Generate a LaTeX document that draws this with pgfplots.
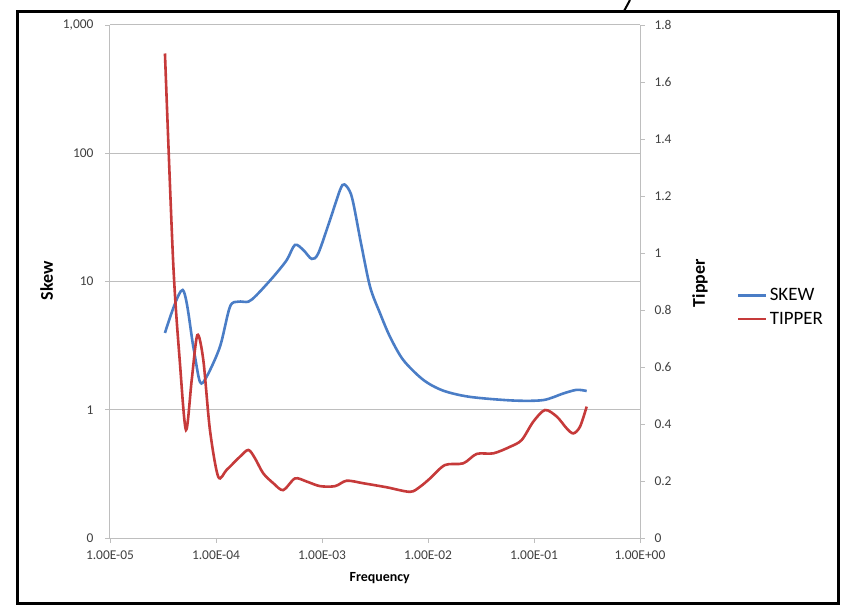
\documentclass[border=0pt]{standalone}
\usepackage{pgfplots}
\pgfplotsset{compat=1.18}
\usepackage{fontspec}
\setmainfont{Carlito}
\definecolor{skewblue}{HTML}{4A7DC6}
\definecolor{tipred}{HTML}{C63A3A}
\definecolor{axgray}{HTML}{BEBEBE}
\begin{document}
\begin{tikzpicture}
\path[use as bounding box] (0bp,0bp) rectangle (851bp,614bp);
\begin{axis}[
  at={(110bp,76bp)}, anchor=south west, scale only axis,
  width=530bp, height=513bp,
  xmode=log, ymode=log,
  xmin=1e-5, xmax=1, ymin=0.1, ymax=1000,
  xtick={1e-5,1e-4,1e-3,1e-2,1e-1,1},
  xticklabels={1.00E-05,1.00E-04,1.00E-03,1.00E-02,1.00E-01,1.00E+00},
  ytick={0.1,1,10,100,1000},
  yticklabels={0,1,10,100,{1,000}},
  xminorticks=false, yminorticks=false,
  axis x line*=bottom, axis y line*=left,
  axis line style={axgray, line width=1bp},
  ymajorgrids, grid style={axgray, line width=1bp},
  tick align=outside, major tick length=5bp,
  tick style={axgray, line width=0.8bp},
  /pgf/number format/assume math mode=true,
  tick label style={font=\fontsize{13.5}{15}\selectfont, text=black!75},
  yticklabel style={xshift=-8bp},
  xticklabel style={yshift=-4bp},
  xlabel={Frequency},
  xlabel style={at={(rel axis cs:0.509,-0.078)}, anchor=center, font=\bfseries\fontsize{14}{16}\selectfont},
  ylabel={Skew},
  ylabel style={at={(rel axis cs:-0.1195,0.501)}, anchor=center, font=\bfseries\fontsize{18}{20}\selectfont},
]
\addplot[skewblue, line width=2.6bp, smooth, tension=0.5] coordinates {
(3.30e-5,3.97) (4.85e-5,8.59) (6.11e-5,3.10) (7.06e-5,1.65) (8.16e-5,1.81)
(1.09e-4,3.10) (1.355e-4,6.36) (1.62e-4,6.96) (2.02e-4,6.96) (2.42e-4,7.85)
(3.48e-4,10.9) (4.65e-4,14.7) (5.56e-4,19.3) (6.67e-4,17.6) (8.0e-4,15.0)
(9.23e-4,16.6) (1.19e-3,30.2) (1.48e-3,51.7) (1.63e-3,57.1) (1.91e-3,45.8)
(2.33e-3,20.0) (2.84e-3,9.1) (3.52e-3,5.68) (4.38e-3,3.71) (5.85e-3,2.44)
(9.03e-3,1.71) (1.39e-2,1.41) (2.49e-2,1.26) (6.38e-2,1.18) (0.1225,1.19)
(0.189,1.34) (0.253,1.43) (0.314,1.40)
};
\end{axis}
\begin{axis}[
  at={(110bp,76bp)}, anchor=south west, scale only axis,
  width=530bp, height=513bp,
  xmode=log, xmin=1e-5, xmax=1, ymin=0, ymax=1.8,
  ytick={0,0.2,0.4,0.6,0.8,1,1.2,1.4,1.6,1.8},
  axis x line=none, axis y line*=right,
  axis line style={axgray, line width=1bp},
  tick align=outside, major tick length=5bp,
  tick style={axgray, line width=0.8bp},
  /pgf/number format/assume math mode=true,
  tick label style={font=\fontsize{13.5}{15}\selectfont, text=black!75},
  yticklabel style={xshift=6bp},
  ylabel={Tipper},
  ylabel style={at={(rel axis cs:1.113,0.497)}, anchor=center, font=\bfseries\fontsize{18}{20}\selectfont},
  legend style={at={(rel axis cs:1.183,0.45)}, anchor=west, draw=none, fill=none,
    font=\fontsize{19}{22}\selectfont, row sep=6bp, inner sep=0pt},
  legend cell align=left,
  legend image code/.code={\draw[#1] (0bp,0bp) -- (28bp,0bp);},
]
\addlegendimage{skewblue, line width=2.6bp}
\addlegendentry{SKEW}
\addplot[tipred, line width=2.6bp, smooth, tension=0.5] coordinates {
(3.30e-5,1.70) (3.95e-5,0.964) (4.57e-5,0.613) (5.21e-5,0.379) (5.90e-5,0.554)
(6.67e-5,0.712) (7.59e-5,0.625) (8.77e-5,0.379) (1.05e-4,0.215) (1.26e-4,0.239)
(1.68e-4,0.285) (2.02e-4,0.309) (2.33e-4,0.280) (2.79e-4,0.227) (3.48e-4,0.192)
(4.31e-4,0.168) (5.56e-4,0.209) (7.18e-4,0.198) (9.57e-4,0.182) (1.33e-3,0.182)
(1.71e-3,0.201) (2.46e-3,0.192) (4.07e-3,0.178) (6.76e-3,0.162) (8.42e-3,0.180)
(1.045e-2,0.209) (1.445e-2,0.256) (2.15e-2,0.262) (2.88e-2,0.295) (4.13e-2,0.297)
(5.94e-2,0.320) (7.66e-2,0.344) (9.84e-2,0.408) (0.127,0.449) (0.164,0.426)
(0.203,0.385) (0.235,0.367) (0.272,0.391) (0.314,0.461)
};
\addlegendentry{TIPPER}
\end{axis}
\draw[black, line width=3bp] (17bp,10bp) rectangle (838bp,602bp);
\draw[black, line width=2bp] (623.5bp,602bp) -- (630bp,614bp);
\end{tikzpicture}
\end{document}
